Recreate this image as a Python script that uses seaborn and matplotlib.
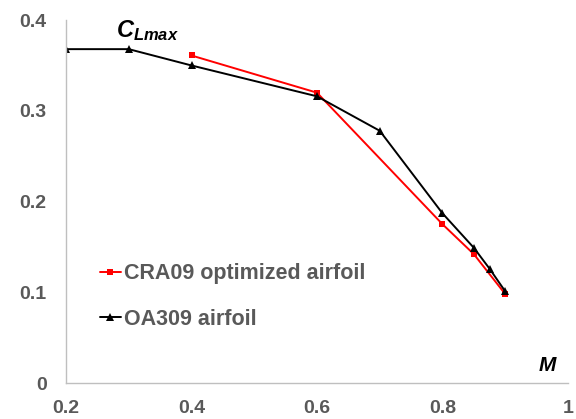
import matplotlib
matplotlib.use("Agg")
import matplotlib.pyplot as plt
import seaborn as sns
import pandas as pd
from matplotlib.ticker import MultipleLocator

# Maximum lift coefficient versus Mach number
mach_cra09 = [0.4, 0.6, 0.8, 0.85, 0.9]
clmax_cra09 = [0.361, 0.320, 0.175, 0.142, 0.098]

mach_oa309 = [0.2, 0.3, 0.4, 0.6, 0.7, 0.8, 0.85, 0.875, 0.9]
clmax_oa309 = [0.368, 0.368, 0.350, 0.316, 0.278, 0.187, 0.149, 0.126, 0.101]

label_cra09 = "CRA09 optimized airfoil"
label_oa309 = "OA309 airfoil"

sns.set_theme(style="white")
plt.rcParams["font.family"] = ["Liberation Sans", "DejaVu Sans"]
plt.rcParams["mathtext.fontset"] = "custom"
plt.rcParams["mathtext.it"] = "Liberation Sans:italic:bold"
plt.rcParams["mathtext.rm"] = "Liberation Sans:bold"

df_cra = pd.DataFrame({"M": mach_cra09, "CL": clmax_cra09})
df_oa = pd.DataFrame({"M": mach_oa309, "CL": clmax_oa309})

fig = plt.figure(figsize=(5.76, 4.19), dpi=100)
ax = fig.add_axes([0.1146, 0.0859, 0.8715, 0.8661])

sns.lineplot(data=df_cra, x="M", y="CL", ax=ax, color="#FF0000", lw=1.4,
             marker="s", markersize=5, markeredgewidth=0, label=label_cra09)
sns.lineplot(data=df_oa, x="M", y="CL", ax=ax, color="black", lw=1.4,
             marker="^", markersize=5.5, markeredgewidth=0, label=label_oa309)

ax.set_xlim(0.2, 1.0)
ax.set_ylim(0, 0.4)
ax.xaxis.set_major_locator(MultipleLocator(0.2))
ax.xaxis.set_minor_locator(MultipleLocator(0.04))
ax.yaxis.set_major_locator(MultipleLocator(0.1))
ax.yaxis.set_minor_locator(MultipleLocator(0.02))
ax.xaxis.set_major_formatter(plt.FuncFormatter(lambda v, p: f"{v:g}"))
ax.yaxis.set_major_formatter(plt.FuncFormatter(lambda v, p: f"{v:g}"))

spine_col = "#BFBFBF"
for side in ["top", "right"]:
    ax.spines[side].set_visible(False)
for side in ["left", "bottom"]:
    ax.spines[side].set_color(spine_col)
    ax.spines[side].set_linewidth(1.0)

ax.tick_params(axis="both", which="both", direction="in", length=5,
               width=1.0, color=spine_col, labelcolor="#595959")
ax.tick_params(axis="x", which="major", pad=12)
ax.tick_params(axis="y", which="major", pad=14)
for lbl in ax.get_xticklabels() + ax.get_yticklabels():
    lbl.set_fontsize(14)
    lbl.set_fontweight("bold")

ax.set_xlabel("")
ax.set_ylabel("")
ax.text(0.279, 0.381, r"$C_{Lmax}$", fontsize=17, color="black",
        ha="left", va="baseline")
ax.text(0.967, 0.019, "M", fontsize=15, fontweight="bold", fontstyle="italic",
        color="black", ha="center", va="center")

leg = ax.legend(loc="center left", bbox_to_anchor=(0.068, 0.238),
                frameon=False, borderaxespad=0, borderpad=0,
                handlelength=0.95, handletextpad=0.15, labelspacing=1.15,
                prop={"family": "Liberation Sans", "weight": "bold", "size": 15.5})
for t in leg.get_texts():
    t.set_color("#595959")

fig.savefig("out.png", dpi=100)
